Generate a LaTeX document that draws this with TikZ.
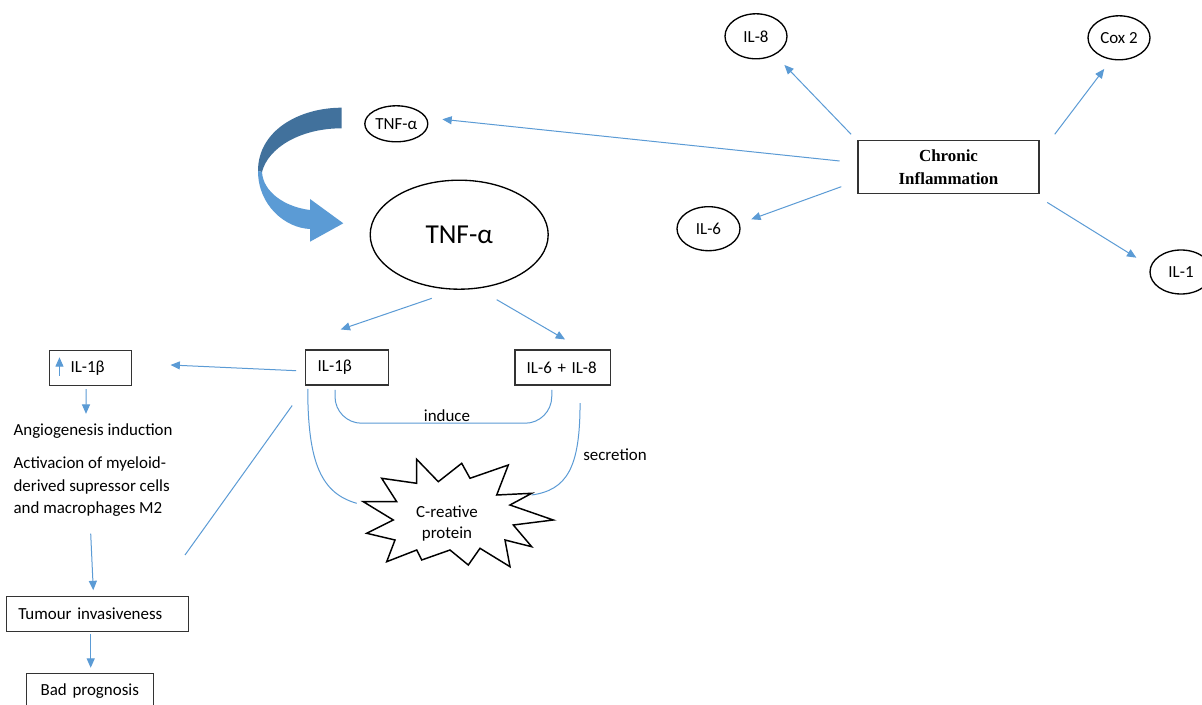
\documentclass[tikz,border=0pt]{standalone}
\usepackage{fontspec}
\setmainfont{Carlito}
\newfontfamily\serifbold{Liberation Serif}
\usetikzlibrary{arrows.meta,calc,shapes.geometric}
\definecolor{linkblue}{HTML}{5B9BD5}
\definecolor{bandlight}{HTML}{5B9BD5}
\definecolor{banddark}{HTML}{41719C}
\tikzstyle{every node}=[font=\fontsize{12.7}{16.9}\selectfont,inner sep=0pt]
\tikzstyle{cyto}=[draw=black,line width=1pt,ellipse]
\tikzstyle{box}=[draw=black!80,line width=0.8pt,rectangle,minimum height=26.25pt,align=left]
\tikzstyle{link}=[draw=linkblue,line width=0.75pt,-{Triangle[length=7pt,width=6pt]}]
\tikzstyle{bond}=[draw=linkblue,line width=0.75pt]

\begin{document}
\begin{tikzpicture}[x=0.75pt,y=-0.75pt]
  \useasboundingbox[fill=white] (0,0) rectangle (1202,705);
  \node[cyto,minimum width=46.5pt,minimum height=33.75pt] (il8) at (756,36.3) {IL-8};
  \node[cyto,minimum width=46.5pt,minimum height=33pt] (cox) at (1119,37.8) {Cox 2};
  \node[cyto,minimum width=47.25pt,minimum height=27pt] (tnfs) at (396.3,123.8) {TNF-α};
  \node[cyto,minimum width=47.25pt,minimum height=33pt] (il6) at (708.5,228.7) {IL-6};
  \node[cyto,minimum width=46.5pt,minimum height=33pt] (il1) at (1181,272) {IL-1};
  \node[cyto,minimum width=133.5pt,minimum height=81.75pt,font=\fontsize{20.5}{24}\selectfont] (tnfb) at (459.2,234.7) {TNF-α};
  \node[draw=black!80,line width=1.1pt,minimum width=135.75pt,minimum height=39.75pt,align=center,
        font=\serifbold\bfseries\fontsize{12.7}{17}\selectfont] (chronic) at (948.5,167) {Chronic\\Inflammation};
  \node[box,text width=43.95pt,inner xsep=9pt] (il1b) at (347,367.5) {IL-1β};
  \node[box,text width=54.2pt,inner xsep=8.8pt] (il68) at (562.85,367.5) {IL-6 + IL-8};
  \node[box,text width=30pt,inner xsep=15.9pt] (upil) at (90.5,367.9) {IL-1β};
  \node[anchor=west] (angio) at (13.3,430.7) {Angiogenesis induction};
  \node[anchor=west,align=left] (activ) at (13.3,486.7) {Activacion of myeloid-\\derived supressor cells\\and macrophages M2};
  \node[box,text width=119.1pt,inner xsep=8.7pt] (tumour) at (97.7,614.2) {Tumour invasiveness};
  \node[box,text width=74pt,inner xsep=10.5pt] (bad) at (90,690.8) {Bad prognosis};
  \node[align=center,font=\fontsize{12.7}{15.75}\selectfont] (crp) at (447,524) {C-reative\\protein};
  \node (induce) at (447,416) {induce};
  \node (secr) at (615,455) {secretion};
  \coordinate (mdsc) at (185,555);

  \draw[line width=1.1pt,line join=miter,shift={(crp.center)}]
    (-83.7,-22.3) -- (-50.3,-22.3) -- (-65.3,-45.7) -- (-30.3,-40.7) -- (-30.3,-64.7)
    -- (-8.7,-42.3) -- (14.7,-60.7) -- (23,-45.7) -- (61.3,-59) -- (49.7,-29)
    -- (84.7,-30.7) -- (63,-19) -- (106.3,-4) -- (66.3,1) -- (84.7,22.7)
    -- (58,16) -- (63,42.7) -- (33,24.3) -- (21.3,41) -- (3,26)
    -- (-25.3,36) -- (-30.3,26) -- (-60.3,37.7) -- (-52,16) -- (-80.3,9.3)
    -- (-53.7,-4) -- cycle;

  \fill[banddark] (341.7,107.7) .. controls (300,107.7) and (258,130) .. (258,171)
    -- (262,172) .. controls (268,148) and (300,128.3) .. (341.7,128.3) -- cycle;
  \fill[bandlight] (258,171) .. controls (258,205) and (285,228) .. (310,229)
    -- (310,241.7) -- (343.3,223.3) -- (310,199) -- (310,210)
    .. controls (285,207) and (263,192) .. (262,172) -- cycle;

  \draw[link] ($(chronic.west)+(-17.6,-6)$) -- ($(tnfs.east)+(13.9,-4.5)$);
  \draw[link] ($(chronic.north west)+(-6.2,-5.5)$) -- ($(il8.south)+(28.4,5.5)$);
  \draw[link] ($(chronic.north east)+(15,-5.5)$) -- ($(cox.south)+(-14.8,8.5)$);
  \draw[link] ($(chronic.west)+(-16,19.7)$) -- ($(il6.east)+(10.6,-9.4)$);
  \draw[link] ($(chronic.south east)+(7.5,8.2)$) -- ($(il1.west)+(-13,-14.3)$);
  \draw[link] ($(tnfb.south)+(-27.5,8.5)$) -- ($(il1b.north)+(-6.3,-20)$);
  \draw[link] ($(tnfb.south)+(37.5,9.8)$) -- ($(il68.north)+(2.2,-10)$);
  \draw[link] ($(il1b.west)+(-9,3.2)$) -- ($(upil.east)+(38.3,-2.9)$);
  \draw[link] ($(upil.west)+(10.7,8.1)$) -- ($(upil.west)+(10.7,-10.6)$);
  \draw[link] ($(upil.south)+(-4.5,3.3)$) -- ($(angio.north west)+(72.7,-9.3)$);
  \draw[link] ($(activ.south west)+(77.4,16.8)$) -- ($(tumour.north)+(-4.4,-6)$);
  \draw[link] ($(tumour.south)+(-7,1.6)$) -- ($(bad.north)+(0.7,-5)$);
  \draw[bond] ($(il1b.south west)+(-13,20)$) -- (mdsc);
  \draw[bond] ($(il1b.south west)+(2.6,3.3)$) .. controls +(0,75) and +(-35,-10) .. ($(crp.center)+(-90.3,-20.7)$);
  \draw[bond,rounded corners=20pt] ($(il1b.south)+(-12,4.3)$) |- ($(il1b.south)!0.5!(il68.south)+(0,37.7)$) -| ($(il68.south)+(-11.1,4.3)$);
  \draw[bond] ($(il68.south)+(17.2,17.7)$) .. controls +(0,65) and +(35,-5) .. ($(crp.center)+(84.7,-29)$);
\end{tikzpicture}
\end{document}
